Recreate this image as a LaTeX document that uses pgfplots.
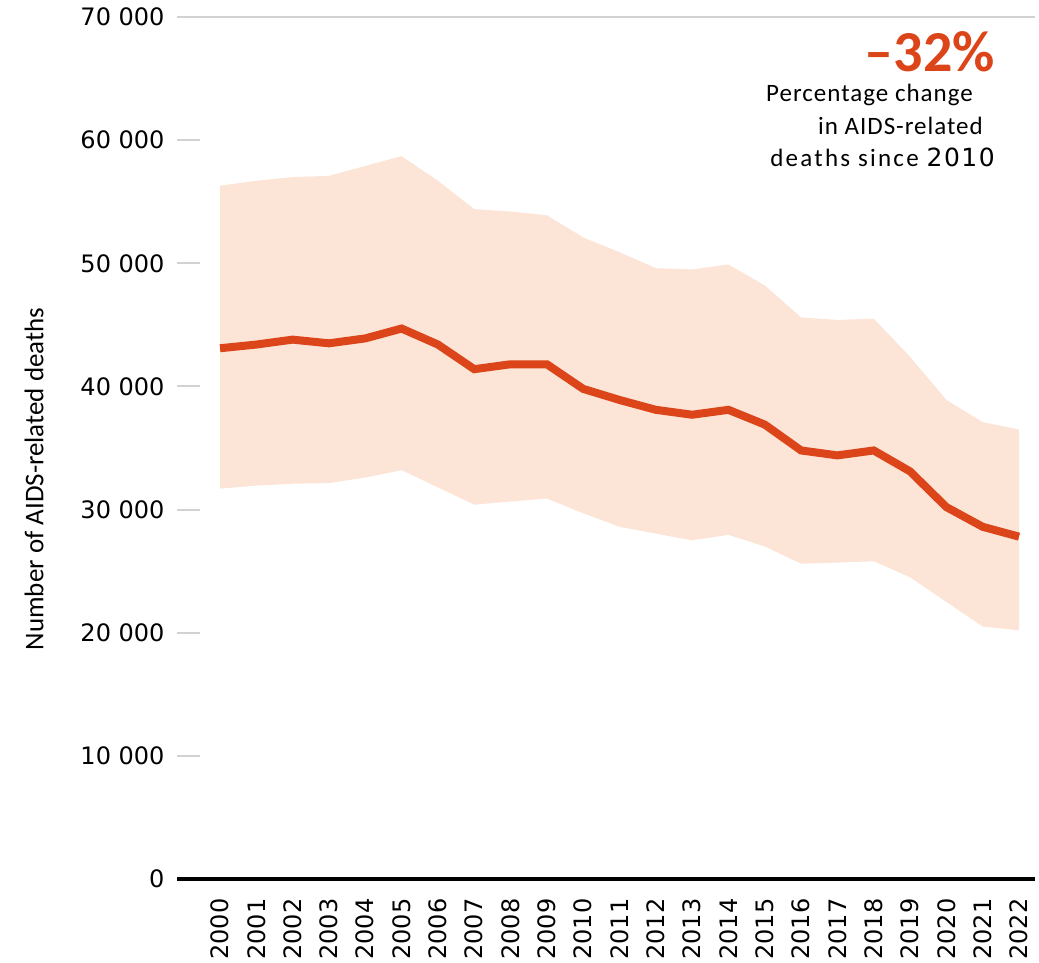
\documentclass[border=0pt]{standalone}
\usepackage{pgfplots}
\pgfplotsset{compat=1.18}
\usepgfplotslibrary{fillbetween}
\usepackage{fontspec}
\setmainfont{Carlito}
\newfontfamily\tickfont{DejaVu Sans}
\newfontfamily\spacedfont[LetterSpace=4]{Carlito}
\newfontfamily\widerfont[LetterSpace=9]{Carlito}
\newfontfamily\digitfont[LetterSpace=6]{DejaVu Sans}
\definecolor{aidsred}{RGB}{220,69,26}
\definecolor{band}{RGB}{252,228,215}
\definecolor{tickgray}{RGB}{210,210,210}
\begin{document}
\begin{tikzpicture}[x=1pt,y=1pt]
\begin{axis}[
  at={(177pt,84pt)}, anchor=south west,
  scale only axis, width=858pt, height=862pt,
  xmin=1998.816, xmax=2022.44, ymin=0, ymax=70000,
  clip=false,
  axis line style={draw=none},
  xtick={2000,...,2022},
  xticklabels={2000,2001,2002,2003,2004,2005,2006,2007,2008,2009,2010,2011,2012,2013,2014,2015,2016,2017,2018,2019,2020,2021,2022},
  xticklabel style={rotate=90, anchor=east, font=\fontsize{24}{24}\tickfont, xshift=-16pt},
  ytick={0,10000,20000,30000,40000,50000,60000,70000},
  yticklabels={0,10 000,20 000,30 000,40 000,50 000,60 000,70 000},
  yticklabel style={anchor=east, font=\fontsize{24}{24}\tickfont, xshift=-9pt},
  ytick pos=left, xtick pos=bottom,
  tick align=inside, major tick length=23pt,
  ytick style={draw=tickgray, line width=2pt},
  xtick style={draw=none},
]
\addplot[name path=upper, draw=none] coordinates {
(2000,56300) (2001,56700) (2002,57000) (2003,57100) (2004,57900) (2005,58700)
(2006,56700) (2007,54400) (2008,54200) (2009,53900) (2010,52100) (2011,50900)
(2012,49600) (2013,49500) (2014,49900) (2015,48200) (2016,45600) (2017,45400)
(2018,45500) (2019,42400) (2020,38900) (2021,37100) (2022,36500)};
\addplot[name path=lower, draw=none] coordinates {
(2000,31700) (2001,31950) (2002,32100) (2003,32150) (2004,32600) (2005,33200)
(2006,31800) (2007,30400) (2008,30650) (2009,30900) (2010,29700) (2011,28600)
(2012,28050) (2013,27500) (2014,27950) (2015,27000) (2016,25600) (2017,25700)
(2018,25800) (2019,24500) (2020,22500) (2021,20500) (2022,20200)};
\addplot[band, draw=none] fill between[of=upper and lower];
\addplot[aidsred, line width=8pt] coordinates {
(2000,43100) (2001,43400) (2002,43800) (2003,43500) (2004,43900) (2005,44700)
(2006,43400) (2007,41400) (2008,41800) (2009,41800) (2010,39800) (2011,38900)
(2012,38100) (2013,37700) (2014,38100) (2015,36900) (2016,34800) (2017,34400)
(2018,34800) (2019,33100) (2020,30200) (2021,28600) (2022,27800)};
\draw[tickgray, line width=2pt] (axis cs:1998.816,70000) -- (axis cs:2022.44,70000);
\draw[black, line width=4pt] (axis cs:1998.816,0) -- (axis cs:2022.44,0);
\end{axis}
\node[rotate=90, font=\fontsize{27}{27}\selectfont, inner sep=0] at (34pt,484pt) {Number of AIDS-related deaths};
\node[anchor=base east, text=aidsred, font=\fontsize{58}{58}\selectfont\bfseries, inner sep=0] at (995pt,891pt) {–32\%};
\node[anchor=base east, font=\fontsize{25}{25}\spacedfont, inner sep=0] at (973pt,861pt) {Percentage change};
\node[anchor=base east, font=\fontsize{25}{25}\spacedfont, inner sep=0] at (983pt,828pt) {in AIDS-related};
\node[anchor=base east, font=\fontsize{25}{25}\widerfont, inner sep=0] at (995pt,796pt) {deaths since {\digitfont 2010}};
\pgfresetboundingbox
\useasboundingbox (0,0) rectangle (1039pt,963pt);
\end{tikzpicture}
\end{document}
